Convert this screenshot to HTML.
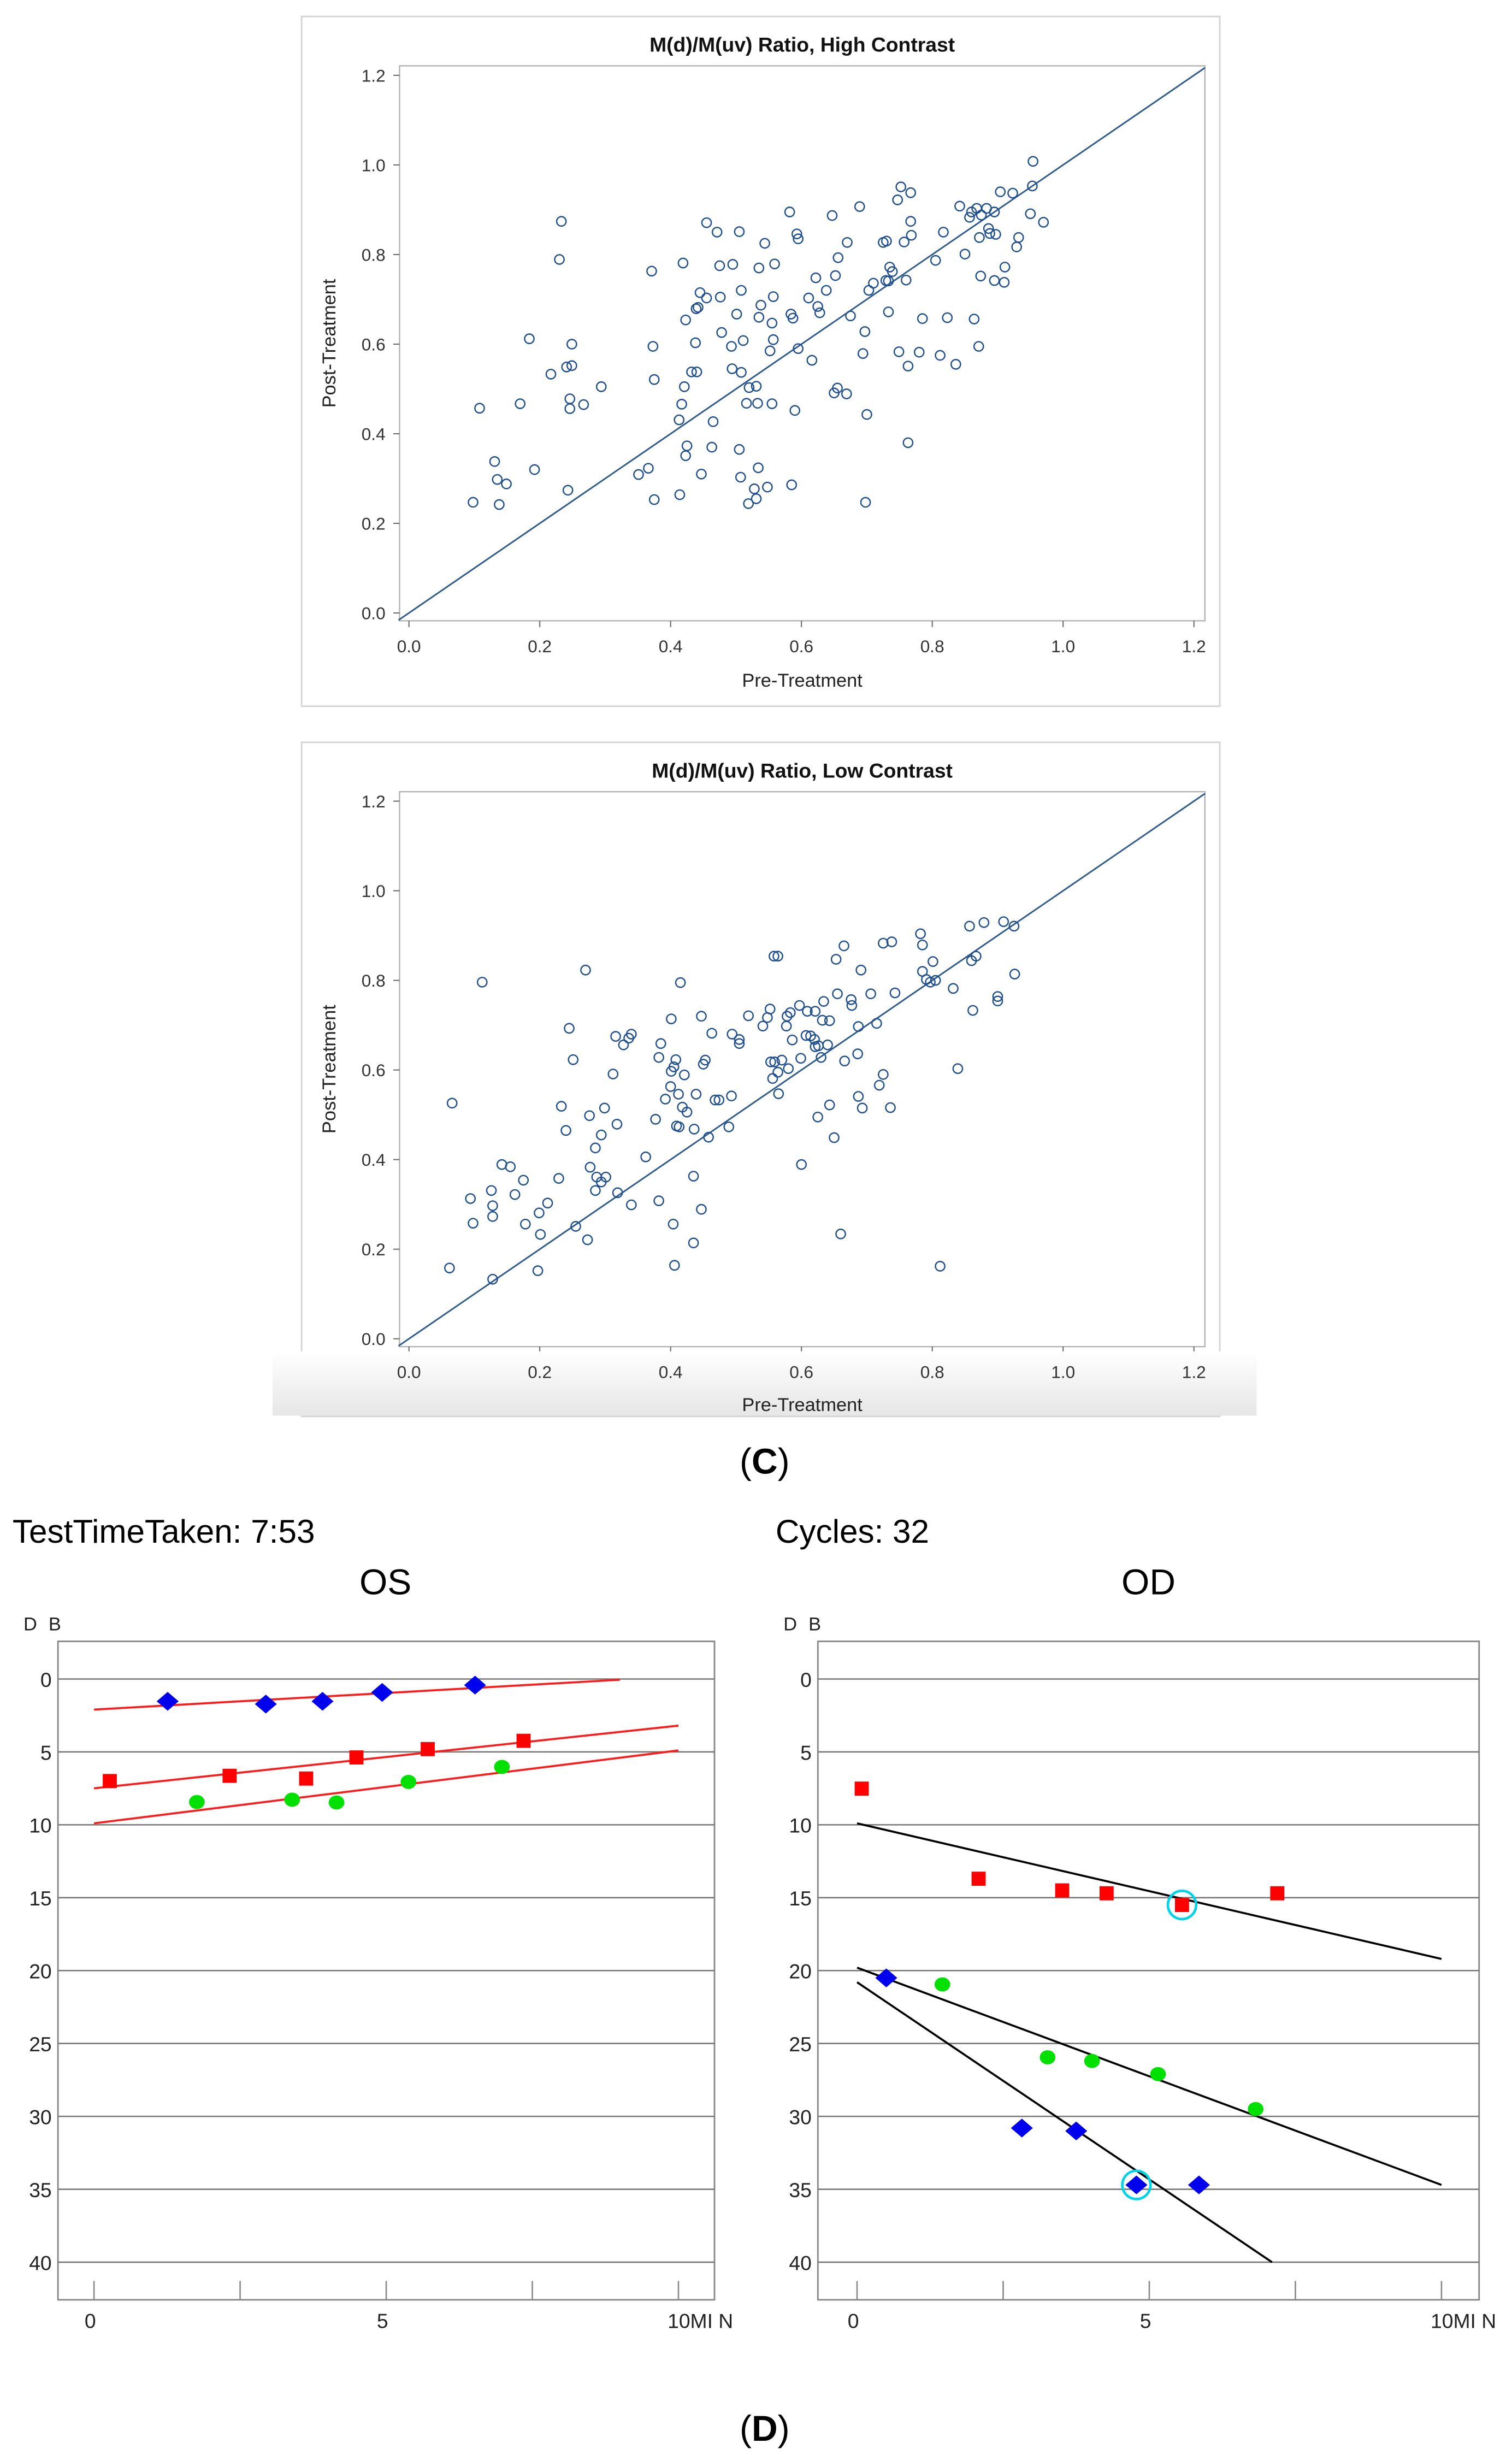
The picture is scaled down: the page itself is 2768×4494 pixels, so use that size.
<!DOCTYPE html>
<html><head><meta charset="utf-8"><style>
html,body{margin:0;padding:0;background:#fff;}
svg{display:block;}
text{font-family:"Liberation Sans",sans-serif;}
</style></head>
<body>
<svg id="fig" xmlns="http://www.w3.org/2000/svg" width="2768" height="4494" viewBox="0 0 965 1566" preserveAspectRatio="none">
<defs>
<linearGradient id="gband" x1="0" y1="0" x2="0" y2="1">
<stop offset="0" stop-color="#ffffff"/><stop offset="1" stop-color="#e6e6e6"/>
</linearGradient>
</defs>
<g id="layer"></g>
</svg>
<script>
// ---- Scatter data (Pre, Post) ----
const hcPre = [0.098,0.108,0.131,0.135,0.138,0.149,0.17,0.184,0.192,0.217,0.23,0.233,0.241,0.243,0.246,0.246,0.249,0.249,0.267,0.294,0.351,0.366,0.371,0.373,0.375,0.375,0.413,0.414,0.417,0.419,0.421,0.423,0.423,0.425,0.432,0.438,0.439,0.44,0.442,0.445,0.447,0.455,0.455,0.463,0.465,0.471,0.475,0.476,0.478,0.493,0.494,0.495,0.501,0.505,0.505,0.507,0.508,0.508,0.511,0.516,0.519,0.52,0.528,0.531,0.531,0.533,0.534,0.535,0.535,0.538,0.544,0.548,0.552,0.555,0.555,0.557,0.557,0.559,0.582,0.584,0.585,0.587,0.59,0.593,0.595,0.595,0.611,0.616,0.622,0.625,0.628,0.638,0.647,0.65,0.652,0.655,0.656,0.669,0.67,0.675,0.689,0.694,0.697,0.698,0.7,0.703,0.71,0.725,0.729,0.73,0.733,0.733,0.735,0.739,0.747,0.749,0.752,0.757,0.76,0.763,0.763,0.767,0.767,0.768,0.78,0.785,0.805,0.812,0.817,0.823,0.836,0.842,0.85,0.857,0.86,0.864,0.868,0.871,0.872,0.874,0.875,0.883,0.886,0.888,0.895,0.895,0.897,0.904,0.91,0.911,0.923,0.929,0.932,0.95,0.953,0.954,0.97];
const hcPost = [0.247,0.457,0.338,0.298,0.242,0.288,0.467,0.612,0.32,0.533,0.789,0.874,0.549,0.274,0.478,0.456,0.552,0.6,0.465,0.505,0.309,0.323,0.763,0.595,0.521,0.253,0.431,0.264,0.466,0.781,0.505,0.654,0.351,0.373,0.538,0.603,0.679,0.538,0.682,0.715,0.31,0.871,0.703,0.37,0.427,0.85,0.775,0.705,0.626,0.595,0.545,0.778,0.667,0.365,0.851,0.303,0.537,0.72,0.608,0.468,0.244,0.503,0.277,0.255,0.506,0.468,0.324,0.77,0.66,0.687,0.825,0.281,0.585,0.647,0.467,0.706,0.61,0.779,0.895,0.667,0.286,0.658,0.452,0.846,0.835,0.59,0.703,0.564,0.748,0.684,0.67,0.72,0.887,0.491,0.753,0.502,0.793,0.489,0.827,0.663,0.907,0.579,0.628,0.247,0.443,0.72,0.736,0.827,0.742,0.83,0.741,0.672,0.772,0.762,0.922,0.583,0.951,0.828,0.743,0.551,0.38,0.938,0.874,0.843,0.582,0.657,0.787,0.575,0.85,0.659,0.555,0.908,0.801,0.883,0.895,0.656,0.903,0.595,0.838,0.752,0.888,0.903,0.858,0.847,0.742,0.895,0.845,0.94,0.738,0.772,0.937,0.817,0.838,0.891,0.953,1.008,0.872];
const lcPre = [0.062,0.066,0.094,0.098,0.112,0.126,0.128,0.128,0.128,0.142,0.155,0.162,0.175,0.178,0.197,0.199,0.201,0.212,0.229,0.233,0.24,0.245,0.251,0.255,0.27,0.273,0.276,0.277,0.285,0.285,0.287,0.294,0.294,0.299,0.301,0.312,0.316,0.318,0.319,0.328,0.336,0.34,0.34,0.362,0.377,0.382,0.382,0.385,0.392,0.4,0.401,0.401,0.404,0.405,0.406,0.408,0.409,0.412,0.413,0.415,0.418,0.421,0.425,0.435,0.435,0.436,0.439,0.447,0.447,0.45,0.453,0.458,0.463,0.468,0.474,0.489,0.493,0.494,0.505,0.505,0.519,0.541,0.548,0.552,0.553,0.556,0.558,0.559,0.564,0.564,0.565,0.57,0.577,0.578,0.58,0.583,0.586,0.597,0.599,0.6,0.607,0.609,0.614,0.62,0.621,0.621,0.625,0.626,0.63,0.632,0.634,0.64,0.643,0.643,0.65,0.653,0.655,0.66,0.665,0.666,0.676,0.677,0.686,0.687,0.687,0.691,0.693,0.706,0.715,0.719,0.725,0.725,0.736,0.738,0.743,0.782,0.785,0.785,0.791,0.797,0.801,0.805,0.812,0.832,0.839,0.857,0.86,0.862,0.867,0.879,0.9,0.9,0.909,0.925,0.926];
const lcPost = [0.158,0.526,0.313,0.258,0.796,0.331,0.297,0.273,0.133,0.389,0.384,0.322,0.354,0.256,0.152,0.281,0.233,0.303,0.358,0.519,0.465,0.693,0.623,0.251,0.823,0.221,0.498,0.383,0.331,0.426,0.361,0.35,0.455,0.515,0.361,0.591,0.675,0.479,0.326,0.656,0.671,0.68,0.299,0.406,0.49,0.628,0.308,0.659,0.535,0.563,0.597,0.714,0.256,0.607,0.164,0.623,0.475,0.546,0.473,0.795,0.517,0.589,0.506,0.214,0.363,0.468,0.546,0.72,0.289,0.613,0.622,0.45,0.682,0.533,0.533,0.473,0.542,0.68,0.668,0.659,0.721,0.698,0.717,0.736,0.618,0.581,0.854,0.618,0.854,0.595,0.547,0.622,0.698,0.72,0.603,0.728,0.667,0.744,0.626,0.389,0.677,0.731,0.676,0.668,0.731,0.652,0.495,0.654,0.628,0.711,0.753,0.656,0.71,0.522,0.449,0.847,0.77,0.234,0.877,0.62,0.757,0.744,0.636,0.697,0.541,0.823,0.515,0.77,0.704,0.566,0.59,0.883,0.516,0.886,0.772,0.904,0.82,0.879,0.802,0.796,0.842,0.8,0.162,0.782,0.603,0.921,0.844,0.733,0.854,0.929,0.764,0.754,0.931,0.921,0.814];
const scTicks = [0.0,0.2,0.4,0.6,0.8,1.0,1.2];
const scTickLabels = ["0.0","0.2","0.4","0.6","0.8","1.0","1.2"];

// ---- Threshold charts (minutes, dB) ----
const osBlueX = [1.26,2.94,3.91,4.93,6.52];
const osBlueY = [1.53,1.72,1.53,0.92,0.42];
const osRedX = [0.27,2.32,3.63,4.49,5.71,7.35];
const osRedY = [7.0,6.64,6.83,5.38,4.81,4.24];
const osGreenX = [1.76,3.39,4.15,5.38,6.98];
const osGreenY = [8.44,8.28,8.47,7.06,6.03];
const osLineX1 = [0,0,0];
const osLineY1 = [2.1,7.5,9.9];
const osLineX2 = [9.0,10,10];
const osLineY2 = [0.05,3.2,4.9];
const odRedX = [0.08,2.08,3.51,4.27,5.56,7.19];
const odRedY = [7.52,13.7,14.5,14.7,15.5,14.7];
const odGreenX = [1.46,3.26,4.02,5.15,6.82];
const odGreenY = [20.95,25.95,26.2,27.1,29.5];
const odBlueX = [0.5,2.82,3.75,4.78,5.85];
const odBlueY = [20.5,30.8,31.0,34.7,34.7];
const odLineX1 = [0,0,0];
const odLineY1 = [9.9,19.8,20.8];
const odLineX2 = [10,10,7.1];
const odLineY2 = [19.2,34.7,40];
const odCircX = [5.56,4.78];
const odCircY = [15.5,34.7];
const dbTicks = [0,5,10,15,20,25,30,35,40];
const minTicks = [0,2.5,5,7.5,10];
const minTickLabels = ["0","","5","","10MI N"];

const NS = "http://www.w3.org/2000/svg";
const L = document.getElementById('layer');
function mk(tag, attrs, parent){
  const e = document.createElementNS(NS, tag);
  for (const k in attrs) e.setAttribute(k, attrs[k]);
  (parent||L).appendChild(e);
  return e;
}

function scatter(cfg, xs, ys, name){
  const g = mk('g', {});
  
  
  const sx = v => cfg.x0 + v*417.5;
  const sy = v => cfg.y0 - v*285.8;
  const fr = mk('rect', {x:192.5,y:cfg.fy+0.5,width:586,height:cfg.fh,fill:'#fff',stroke:'#d4d4d4','stroke-width':1}, g);
  
  
  const pa = mk('rect', {x:255,y:cfg.pt,width:514,height:cfg.pb-cfg.pt,fill:'#fff',stroke:'#b0b0b0','stroke-width':0.8}, g);
  
  
  const t = mk('text', {x:512,y:cfg.fy+23,'text-anchor':'middle','font-size':13,'font-weight':'bold',fill:'#111'}, g);
  t.textContent = cfg.title;
  
  
  for (let i=0;i<scTicks.length;i++){
    const v = scTicks[i];
    mk('line', {x1:251,x2:255,y1:sy(v),y2:sy(v),stroke:'#666','stroke-width':0.7}, g);
    const yl = mk('text', {x:246,y:sy(v)+4,'text-anchor':'end','font-size':11,fill:'#333'}, g);
    yl.textContent = scTickLabels[i];
    
    
    mk('line', {x1:sx(v),x2:sx(v),y1:cfg.pb,y2:cfg.pb+4,stroke:'#666','stroke-width':0.7}, g);
    if (cfg.xlabels){
      const xl = mk('text', {x:sx(v),y:cfg.pb+20,'text-anchor':'middle','font-size':11,fill:'#333'}, g);
      xl.textContent = scTickLabels[i];
      
      
    }
  }
  if (cfg.xlabels){
    const xt = mk('text', {x:512,y:cfg.pb+42,'text-anchor':'middle','font-size':12,fill:'#222'}, g);
    xt.textContent = 'Pre-Treatment';
    
    
  }
  const cy = (cfg.pt+cfg.pb)/2;
  const yt = mk('text', {x:214,y:cy,'text-anchor':'middle','font-size':12,fill:'#222',transform:'rotate(-90 214 '+cy+')'}, g);
  yt.textContent = 'Post-Treatment';
  
  
  const dl = mk('line', {x1:sx(-0.016),y1:sy(-0.016),x2:sx(1.217),y2:sy(1.217),stroke:'#2d5a8c','stroke-width':1}, g);
  
  
  for (let i=0;i<xs.length;i++){
    const c = mk('circle', {cx:sx(xs[i]),cy:sy(ys[i]),r:3,fill:'none',stroke:'#1f4f8f','stroke-width':0.85}, g);
    
    
  }
}

scatter({x0:261,y0:391,fy:10,fh:440,pt:42,pb:396,xlabels:true,title:'M(d)/M(uv) Ratio, High Contrast'}, hcPre, hcPost, 'high-contrast-scatter');
scatter({x0:261,y0:854,fy:473,fh:430,pt:505,pb:859,xlabels:false,title:'M(d)/M(uv) Ratio, Low Contrast'}, lcPre, lcPost, 'low-contrast-scatter');
const band2 = mk('rect', {x:174,y:862,width:628,height:41,fill:'url(#gband)'});


const xt2 = mk('text', {x:512,y:900,'text-anchor':'middle','font-size':12,fill:'#222'});
xt2.textContent = 'Pre-Treatment';


for (let i=0;i<scTicks.length;i++){
  const xl = mk('text', {x:261+scTicks[i]*417.5,y:879,'text-anchor':'middle','font-size':11,fill:'#333'});
  xl.textContent = scTickLabels[i];
  
  
}

function panelLabel(txt, y){
  const t = mk('text', {x:488,y:y,'text-anchor':'middle','font-size':23,fill:'#000','font-family':'Liberation Serif, serif'});
  
  
  const a = mk('tspan', {}, t); a.textContent = '(';
  const b = mk('tspan', {'font-weight':'bold'}, t); b.textContent = txt;
  const c = mk('tspan', {}, t); c.textContent = ')';
}
panelLabel('C', 940);
panelLabel('D', 1557);

function thresh(cfg){
  const g = mk('g', {});
  
  
  const sx = v => cfg.x0 + v*37.3;
  const sy = v => 1071 + v*9.3;
  const h = mk('text', {x:cfg.hx,y:984,'font-size':21,fill:'#000'}, g);
  h.textContent = cfg.header;
  
  
  const t = mk('text', {x:cfg.tx,y:1017,'text-anchor':'middle','font-size':23,fill:'#000'}, g);
  t.textContent = cfg.title;
  
  
  const db = mk('text', {x:cfg.bl-22,y:1040,'font-size':12,fill:'#222','letter-spacing':'2'}, g);
  db.textContent = 'D B';
  
  
  const bx = mk('rect', {x:cfg.bl,y:1047,width:cfg.br-cfg.bl,height:420,fill:'#fff',stroke:'#888','stroke-width':1}, g);
  
  
  for (const v of dbTicks){
    const gl = mk('line', {x1:cfg.bl,x2:cfg.br,y1:sy(v),y2:sy(v),stroke:'#777','stroke-width':0.9}, g);
    
    
    const yl = mk('text', {x:cfg.bl-4,y:sy(v)+5,'text-anchor':'end','font-size':13,fill:'#222'}, g);
    yl.textContent = String(v);
    
    
  }
  for (let i=0;i<minTicks.length;i++){
    const v = minTicks[i];
    mk('line', {x1:sx(v),x2:sx(v),y1:1455,y2:1467,stroke:'#888','stroke-width':0.9}, g);
    if (minTickLabels[i]){
      const xl = mk('text', {x:sx(v)+(i===4?14:-6),y:1485,'text-anchor':i===4?'middle':'start','font-size':13,fill:'#222'}, g);
      xl.textContent = minTickLabels[i];
      
      
    }
  }
  for (let i=0;i<cfg.lx1.length;i++){
    const ln = mk('line', {x1:sx(cfg.lx1[i]),y1:sy(cfg.ly1[i]),x2:sx(cfg.lx2[i]),y2:sy(cfg.ly2[i]),stroke:cfg.lineColor,'stroke-width':1.3}, g);
    
    
  }
  for (let i=0;i<cfg.rx.length;i++){
    const r = mk('rect', {x:sx(cfg.rx[i])-4.5,y:sy(cfg.ry[i])-4.5,width:9,height:9,fill:'#ff0000'}, g);
    
    
  }
  for (let i=0;i<cfg.gx.length;i++){
    const e = mk('ellipse', {cx:sx(cfg.gx[i]),cy:sy(cfg.gy[i]),rx:5,ry:4.5,fill:'#00e000'}, g);
    
    
  }
  for (let i=0;i<cfg.bxs.length;i++){
    const x = sx(cfg.bxs[i]), y = sy(cfg.bys[i]);
    const p = mk('polygon', {points:(x)+','+(y-6)+' '+(x+7)+','+y+' '+x+','+(y+6)+' '+(x-7)+','+y,fill:'#0000ee'}, g);
    
    
  }
  for (let i=0;i<cfg.cx.length;i++){
    const c = mk('circle', {cx:sx(cfg.cx[i]),cy:sy(cfg.cy[i]),r:9,fill:'none',stroke:'#00d4e8','stroke-width':1.6}, g);
    
    
  }
}

thresh({name:'os-chart',header:'TestTimeTaken: 7:53',hx:8,title:'OS',tx:246,x0:60,bl:37,br:456,
  lx1:osLineX1,ly1:osLineY1,lx2:osLineX2,ly2:osLineY2,lineColor:'#ff1a1a',
  rx:osRedX,ry:osRedY,gx:osGreenX,gy:osGreenY,bxs:osBlueX,bys:osBlueY,cx:[],cy:[]});
thresh({name:'od-chart',header:'Cycles: 32',hx:495,title:'OD',tx:733,x0:547,bl:522,br:944,
  lx1:odLineX1,ly1:odLineY1,lx2:odLineX2,ly2:odLineY2,lineColor:'#000',
  rx:odRedX,ry:odRedY,gx:odGreenX,gy:odGreenY,bxs:odBlueX,bys:odBlueY,cx:odCircX,cy:odCircY});
</script>
</body></html>
